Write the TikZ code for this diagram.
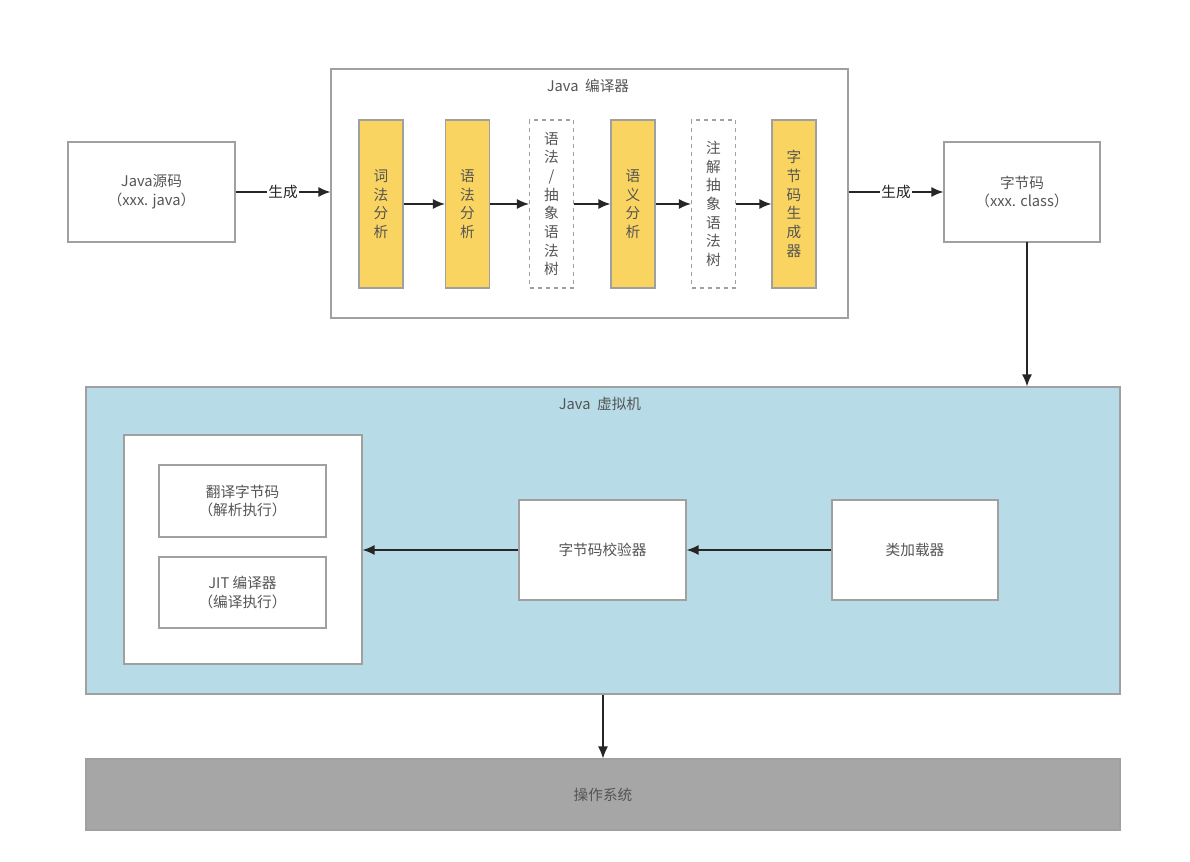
\documentclass[tikz,border=0pt]{standalone}
\usepackage{fontspec}
\setmainfont{Liberation Serif}
\newfontfamily\cjk{Noto Sans CJK SC}
\usetikzlibrary{arrows.meta,positioning}
\definecolor{stagefill}{RGB}{250,212,96}
\definecolor{jvmfill}{RGB}{183,220,232}
\definecolor{osfill}{RGB}{166,166,166}
\definecolor{edge}{RGB}{160,160,160}
\definecolor{ink}{RGB}{85,85,85}

\begin{document}
\begin{tikzpicture}[x=0.75pt, y=-0.75pt,
  font=\cjk\fontsize{11}{14}\selectfont, text=ink,
  box/.style={draw=edge, fill=white, line width=0.8pt, inner sep=0pt, align=center},
  stagebox/.style={box, fill=stagefill, minimum width=33pt, minimum height=126pt},
  treebox/.style={box, dashed, minimum width=33pt, minimum height=126pt},
  flow/.style={line width=1.2pt, black!85, -{Latex[length=9pt,width=7.5pt]}}]
\useasboundingbox (0,0) rectangle (1190,862);
\fill[white] (0,0) rectangle (1190,862);

% source and class file
\node[box, minimum width=125.25pt, minimum height=75pt] (src) at (151.5,192)
  {Java源码\\（xxx. java）};
\node[box, minimum width=117pt, minimum height=75pt] (cls) at (1022,192)
  {字节码\\（xxx. class）};

% compiler
\node[box, minimum width=387.75pt, minimum height=186.75pt] (comp) at (589.5,193.5) {};
\node (comptitle) at (588,86) {Java\ \ 编译器};
\node[stagebox] (lex) at (381,204) {词\\法\\分\\析};
\node[stagebox] (syn) at (467.5,204) {语\\法\\分\\析};
\node[treebox] (ast) at (551.5,204) {语\\法\\/\\抽\\象\\语\\法\\树};
\node[stagebox] (sem) at (633,204) {语\\义\\分\\析};
\node[treebox] (ann) at (713.5,204) {注\\解\\抽\\象\\语\\法\\树};
\node[stagebox] (gen) at (794,204) {字\\节\\码\\生\\成\\器};
\foreach \a/\b in {lex/syn, syn/ast, ast/sem, sem/ann, ann/gen}
  \draw[flow] (\a) -- (\b);

\draw[flow] (src.east) -- node[fill=white, inner sep=1pt] {生成} (comp.west |- src.east);
\draw[flow] (comp.east |- cls.west) -- node[fill=white, inner sep=1pt] {生成} (cls.west);

% virtual machine
\node[box, fill=jvmfill, minimum width=775.5pt, minimum height=230.25pt] (jvm) at (603,540.5) {};
\node (jvmtitle) at (600,404) {Java\ \ 虚拟机};
\node[box, minimum width=178.5pt, minimum height=171.75pt] (eng) at (243,549.5) {};
\node[box, minimum width=125.25pt, minimum height=54pt] (interp) at (242.5,501)
  {翻译字节码\\（解析执行）};
\node[box, minimum width=125.25pt, minimum height=53.25pt] (jit) at (242.5,592.5)
  {JIT\ 编译器\\（编译执行）};
\node[box, minimum width=125.25pt, minimum height=75pt] (verify) at (602.5,550) {字节码校验器};
\node[box, minimum width=124.5pt, minimum height=75pt] (loader) at (915,550) {类加载器};
\draw[flow] (loader) -- (verify);
\draw[flow] (verify.west) -- (eng.east |- verify.west);

\coordinate (clsdrop) at (1027,242);
\draw[flow] (clsdrop) -- (clsdrop |- jvm.north);

% operating system
\node[box, fill=osfill, minimum width=775.5pt, minimum height=53.25pt] (os) at (603,794.5) {操作系统};
\draw[flow, line width=0.9pt] (jvm.south) -- (os.north);
\end{tikzpicture}
\end{document}
